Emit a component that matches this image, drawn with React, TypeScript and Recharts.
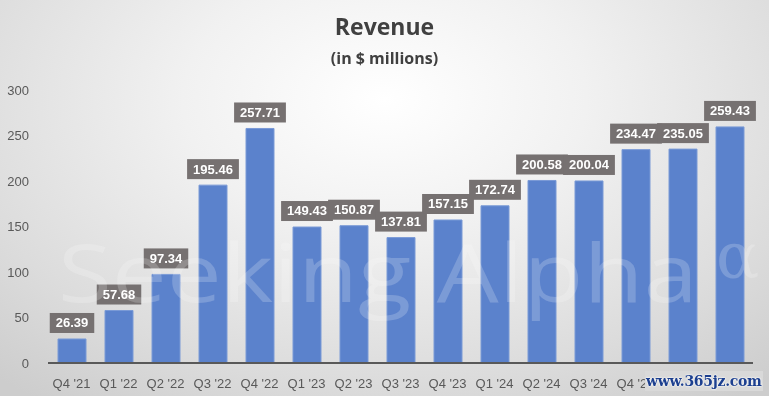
import React from 'react';
import { BarChart, Bar, XAxis, YAxis, LabelList } from 'recharts';

const quarters = [
  "Q4 '21", "Q1 '22", "Q2 '22", "Q3 '22", "Q4 '22",
  "Q1 '23", "Q2 '23", "Q3 '23", "Q4 '23", "Q1 '24",
  "Q2 '24", "Q3 '24", "Q4 '24", "Q1 '25", "Q2 '25",
];
const revenue = [
  26.39, 57.68, 97.34, 195.46, 257.71,
  149.43, 150.87, 137.81, 157.15, 172.74,
  200.58, 200.04, 234.47, 235.05, 259.43,
];
const yTicks = [0, 50, 100, 150, 200, 250, 300];

const chartData = quarters.map((q, i) => ({ name: q, value: revenue[i] }));

const ValueTag = (props: any) => {
  const { x, y, width, value } = props;
  const text = Number(value).toFixed(2);
  const w = text.length * 7.3 + 8;
  const h = 20;
  const cx = x + width / 2;
  const top = y - 6 - h;
  return (
    <g>
      <rect x={cx - w / 2} y={top} width={w} height={h} fill="#767171" />
      <text
        x={cx}
        y={top + h / 2 + 1}
        textAnchor="middle"
        dominantBaseline="middle"
        fill="#ffffff"
        fontSize={13}
        fontWeight="bold"
        fontFamily="Liberation Sans, Arial, sans-serif"
      >
        {text}
      </text>
    </g>
  );
};

export default function App() {
  return (
    <div
      style={{
        position: 'fixed',
        left: 0,
        top: 0,
        width: 769,
        height: 396,
        overflow: 'hidden',
        background: 'radial-gradient(ellipse 75% 95% at 50% 25%, #ffffff 0%, #f1f1f1 35%, #dcdcdc 75%, #cdcdcd 100%)',
        fontFamily: 'Liberation Sans, Arial, sans-serif',
      }}
    >
      <div style={{ position: 'absolute', top: 11, width: '100%', textAlign: 'center', color: '#404040', fontFamily: 'Open Sans, sans-serif', fontWeight: 700, fontSize: 23, lineHeight: '30px' }}>
        Revenue
      </div>
      <div style={{ position: 'absolute', top: 47, width: '100%', textAlign: 'center', color: '#404040', fontFamily: 'Open Sans, sans-serif', fontWeight: 700, fontSize: 16, lineHeight: '22px' }}>
        (in $ millions)
      </div>
      <div style={{ position: 'absolute', left: 0, top: 0 }}>
        <BarChart
          width={769}
          height={396}
          data={chartData}
          margin={{ top: 90, right: 16, bottom: 8, left: 0 }}
          barSize={28}
        >
          <XAxis
            dataKey="name"
            axisLine={{ stroke: '#595959', strokeWidth: 2 }}
            tickLine={false}
            tick={{ fill: '#595959', fontSize: 13 }}
            tickMargin={10}
            height={25}
            interval={0}
          />
          <YAxis
            domain={[0, 300]}
            ticks={yTicks}
            axisLine={false}
            tickLine={false}
            tick={{ fill: '#595959', fontSize: 13 }}
            width={48}
            tickMargin={13}
          />
          <Bar dataKey="value" fill="#5b82cc" stroke="#7a9ad6" strokeWidth={1} isAnimationActive={false}>
            <LabelList dataKey="value" content={ValueTag} />
          </Bar>
        </BarChart>
      </div>
      <svg width={769} height={396} style={{ position: 'absolute', left: 0, top: 0, pointerEvents: 'none' }}>
        <text x={58} y={302} fill="#ffffff" fillOpacity={0.2} fontSize={80} fontFamily="Open Sans, sans-serif" textLength={640} lengthAdjust="spacingAndGlyphs">
          Seeking Alpha
        </text>
        <text x={716} y={278} fill="#ffffff" fillOpacity={0.2} fontSize={64} fontFamily="DejaVu Serif, serif">
          α
        </text>
      </svg>
      <div
        style={{
          position: 'absolute',
          left: 645,
          top: 371,
          padding: '0 1px',
          background: '#d9d9d9',
          color: '#1c3f8f',
          fontFamily: 'DejaVu Serif, serif',
          fontWeight: 700,
          fontSize: 14,
          lineHeight: '20px',
          letterSpacing: -0.3,
          textShadow: '0 0 2px #ffffff, 0 0 2px #ffffff',
        }}
      >
        www.365jz.com
      </div>
    </div>
  );
}
